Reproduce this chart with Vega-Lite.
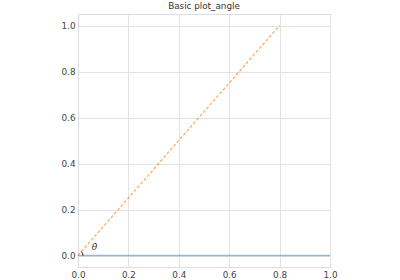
{
  "$schema": "https://vega.github.io/schema/vega-lite/v6.json",
  "autosize": "none",
  "padding": {"left": 78, "top": 14, "right": 70, "bottom": 13},
  "width": 252,
  "height": 253,
  "title": {"text": "Basic plot_angle", "font": "DejaVu Sans", "fontSize": 8.8, "fontWeight": "normal", "color": "#333333", "offset": 3},
  "datasets": {
    "lines": [
      {"series": "base", "x": 0, "y": 0},
      {"series": "base", "x": 1, "y": 0},
      {"series": "ray", "x": 0, "y": 0},
      {"series": "ray", "x": 0.8, "y": 1}
    ],
    "labels": [{"x": 0.065, "y": 0.035, "label": "θ"}]
  },
  "config": {
    "view": {"stroke": "#dddddd", "strokeWidth": 1},
    "axis": {
      "labelFont": "DejaVu Sans",
      "labelFontSize": 8.8,
      "labelColor": "#444444",
      "labelFlush": false,
      "gridColor": "#e3e3e3",
      "gridWidth": 1,
      "domainColor": "#dddddd",
      "tickSize": 0,
      "labelPadding": 3,
      "title": null
    }
  },
  "layer": [
    {
      "data": {"name": "lines"},
      "transform": [{"filter": "datum.series === 'base'"}],
      "mark": {"type": "line", "color": "#1f77b4", "opacity": 0.5, "strokeWidth": 1.5, "clip": true},
      "encoding": {
        "x": {"field": "x", "type": "quantitative", "scale": {"domain": [0, 1], "nice": false, "zero": false}, "axis": {"values": [0, 0.2, 0.4, 0.6, 0.8, 1.0], "format": ".1f"}},
        "y": {"field": "y", "type": "quantitative", "scale": {"domain": [-0.05, 1.05], "nice": false, "zero": false}, "axis": {"values": [0, 0.2, 0.4, 0.6, 0.8, 1.0], "format": ".1f"}}
      }
    },
    {
      "data": {"name": "lines"},
      "transform": [{"filter": "datum.series === 'ray'"}],
      "mark": {"type": "line", "color": "#ff7f0e", "opacity": 0.7, "strokeWidth": 1.2, "strokeDash": [3, 2]},
      "encoding": {
        "x": {"field": "x", "type": "quantitative"},
        "y": {"field": "y", "type": "quantitative"}
      }
    },
    {
      "data": {"values": [{"cx": 0, "cy": 0}]},
      "mark": {"type": "arc", "theta": 0.719, "theta2": 1.5708, "radius": 5, "radius2": 5, "fill": null, "stroke": "#333333", "strokeWidth": 0.8},
      "encoding": {
        "x": {"field": "cx", "type": "quantitative"},
        "y": {"field": "cy", "type": "quantitative"}
      }
    },
    {
      "data": {"name": "labels"},
      "mark": {"type": "text", "font": "DejaVu Sans", "fontSize": 9, "fontStyle": "italic", "color": "#333333"},
      "encoding": {
        "x": {"field": "x", "type": "quantitative"},
        "y": {"field": "y", "type": "quantitative"},
        "text": {"field": "label"}
      }
    }
  ]
}
